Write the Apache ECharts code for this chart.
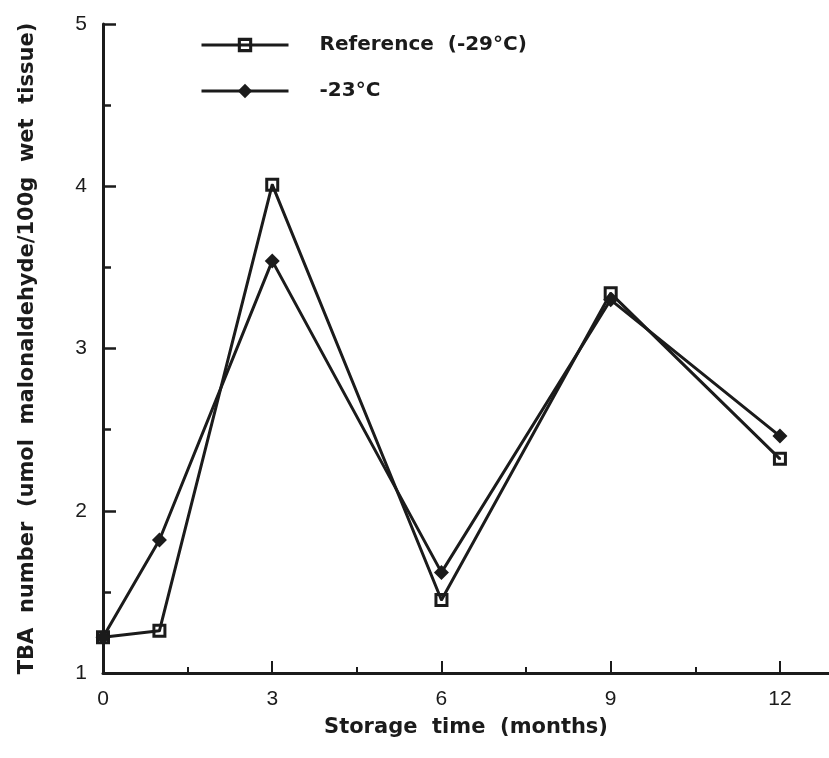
<!DOCTYPE html>
<html>
<head>
    <meta charset="utf-8">
    <title>TBA number</title>
    <script src="https://cdn.jsdelivr.net/npm/echarts@6/dist/echarts.min.js"></script>
</head>
<body style="margin:0;background:#fff;">
<div id="main" style="width:829px;height:758px;"></div>
<script type="text/javascript">
    // storage time (months)
    var months = [0, 1, 3, 6, 9, 12];
    // TBA values
    var ref29 = [1.22, 1.26, 4.01, 1.45, 3.34, 2.32];
    var minus23 = [1.22, 1.82, 3.54, 1.62, 3.30, 2.46];
    var xLabels = [0, 3, 6, 9, 12];
    var xMajorTicks = [3, 6, 9, 12];
    var xMinorTicks = [1.5, 4.5, 7.5, 10.5];

    var ink = '#1b1b1b';
    var font = '"Liberation Sans", Arial, sans-serif';
    var boldFont = '"DejaVu Sans", sans-serif';

    function pairs(ys) {
        return months.map(function (m, i) { return [m, ys[i]]; });
    }

    // open square with a dot in the middle (hole made by reversed winding)
    var openSquare = 'path://M0,0H14V14H0Z M3,3V11H11V3Z M6,6H8V8H6Z';

    var myChart = echarts.init(document.getElementById('main'));

    myChart.setOption({
        animation: false,
        backgroundColor: '#fff',
        grid: { left: 103, right: 0, top: 24, bottom: 85 },
        legend: {
            orient: 'vertical',
            left: 195,
            top: 30,
            itemWidth: 87,
            itemHeight: 18,
            itemGap: 26,
            lineStyle: { width: 3 },
            textStyle: { fontFamily: boldFont, fontWeight: 'bold', fontSize: 20, color: ink, padding: [0, 0, 0, 26] },
            data: ['Reference  (-29°C)', '-23°C']
        },
        xAxis: [{
            type: 'value',
            min: 0,
            max: 12.87,
            name: 'Storage  time  (months)',
            nameLocation: 'middle',
            nameGap: 44,
            nameTextStyle: { fontFamily: boldFont, fontWeight: 'bold', fontSize: 21, color: ink },
            axisLine: { lineStyle: { color: ink, width: 3 } },
            axisTick: { inside: true, length: 12, lineStyle: { color: ink, width: 2 }, customValues: xMajorTicks },
            axisLabel: { fontFamily: font, fontSize: 21, color: ink, margin: 16, customValues: xLabels },
            splitLine: { show: false }
        }, {
            type: 'value',
            min: 0,
            max: 12.87,
            position: 'bottom',
            axisLine: { show: false },
            axisTick: { inside: true, length: 6, lineStyle: { color: ink, width: 2 }, customValues: xMinorTicks },
            axisLabel: { show: false },
            splitLine: { show: false }
        }],
        yAxis: {
            type: 'value',
            min: 1,
            max: 5,
            interval: 1,
            name: 'TBA  number  (umol  malonaldehyde/100g  wet  tissue)',
            nameLocation: 'middle',
            nameGap: 65,
            nameTextStyle: { fontFamily: boldFont, fontWeight: 'bold', fontSize: 21, color: ink },
            axisLine: { lineStyle: { color: ink, width: 3 } },
            axisTick: { inside: true, length: 13, lineStyle: { color: ink, width: 2.5 } },
            minorTick: { show: true, splitNumber: 2, length: 8, lineStyle: { color: ink, width: 2.5 } },
            axisLabel: { fontFamily: font, fontSize: 21, color: ink, margin: 16 },
            splitLine: { show: false }
        },
        series: [{
            name: 'Reference  (-29°C)',
            type: 'line',
            data: pairs(ref29),
            symbol: openSquare,
            symbolSize: 14,
            lineStyle: { color: ink, width: 3 },
            itemStyle: { color: ink },
            z: 2
        }, {
            name: '-23°C',
            type: 'line',
            data: pairs(minus23),
            symbol: 'diamond',
            symbolSize: 15,
            lineStyle: { color: ink, width: 3 },
            itemStyle: { color: ink },
            z: 3
        }]
    });
</script>
</body>
</html>
